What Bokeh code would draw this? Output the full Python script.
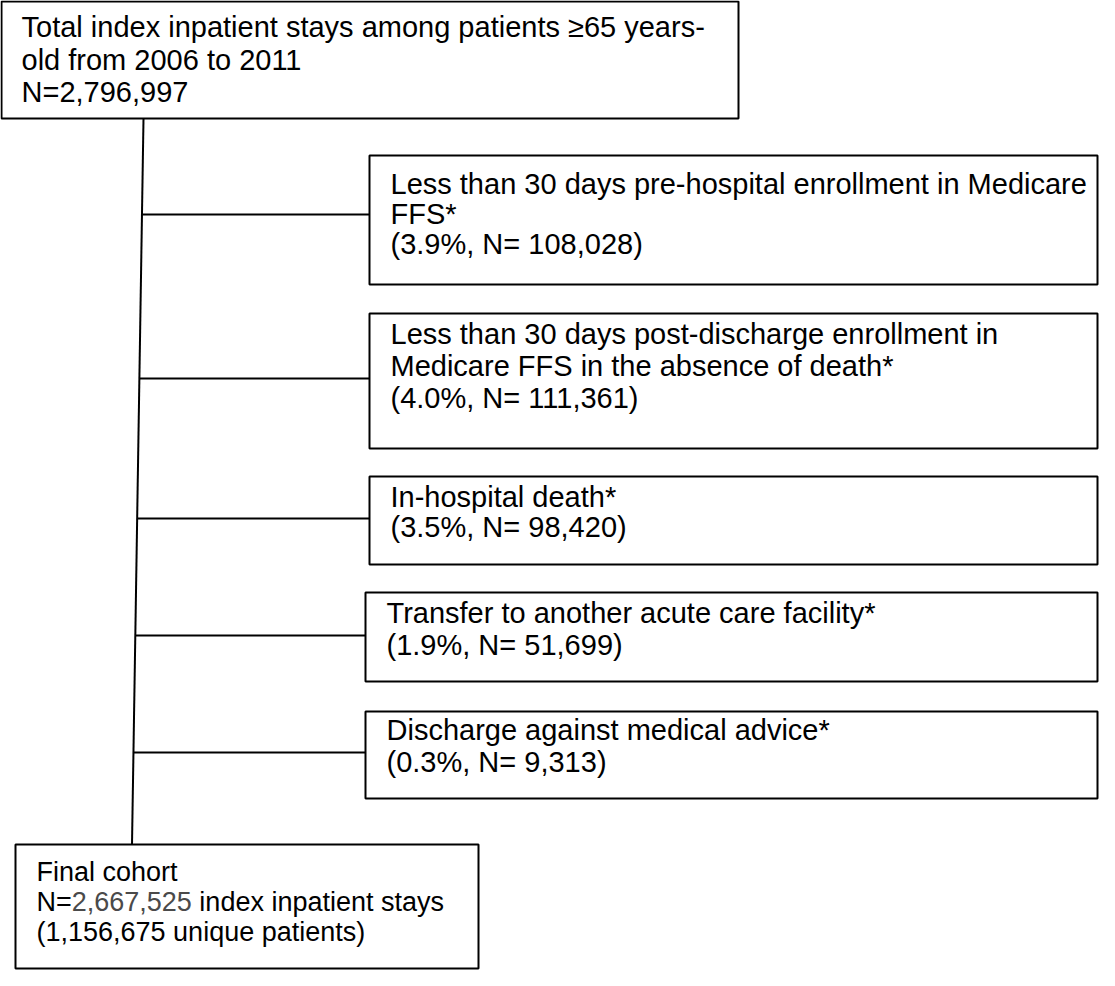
from bokeh.plotting import figure
from bokeh.models import Range1d
from bokeh.core.properties import value
from bokeh.embed import file_html
from bokeh.resources import INLINE

# ---------------- data ----------------
start_lines = ["Total index inpatient stays among patients \u226565 years-",
               "old from 2006 to 2011"]
total_n = 2796997

criteria_lines = [
    ["Less than 30 days pre-hospital enrollment in Medicare", "FFS*"],
    ["Less than 30 days post-discharge enrollment in", "Medicare FFS in the absence of death*"],
    ["In-hospital death*"],
    ["Transfer to another acute care facility*"],
    ["Discharge against medical advice*"],
]
excluded_pct = [3.9, 4.0, 3.5, 1.9, 0.3]
excluded_n = [108028, 111361, 98420, 51699, 9313]

final_title = "Final cohort"
final_n = 2667525
final_suffix = "index inpatient stays"
unique_patients = 1156675

# ---------------- layout (pixel space) ----------------
PW, PH = 1099, 970
XMAX, YMAX = PW - 2, PH - 2

FONT = value("Liberation Sans")
FS_MAIN = "29px"
FS_FINAL_NUM = 27
FS_FINAL = f"{FS_FINAL_NUM}px"

p = figure(width=PW, height=PH, output_backend="svg", toolbar_location=None,
           x_range=Range1d(0, PW), y_range=Range1d(PH, 0))
p.axis.visible = False
p.xgrid.visible = False
p.ygrid.visible = False
p.outline_line_color = None
p.min_border = 0
p.background_fill_color = "white"
p.border_fill_color = "white"

# boxes (left, right, top, bottom)
start_box = (1, 738, 1, 118)
crit_boxes = [(369, XMAX, 155, 284), (369, XMAX, 313, 448), (369, XMAX, 476, 564),
              (365, XMAX, 592, 681), (365, XMAX, 711, 798)]
final_box = (15, 478, 844, YMAX)
all_boxes = [start_box] + crit_boxes + [final_box]
p.quad(left=[b[0] for b in all_boxes], right=[b[1] for b in all_boxes],
       top=[b[2] for b in all_boxes], bottom=[b[3] for b in all_boxes],
       fill_color="white", line_color="black", line_width=2)

# trunk and connectors
tx0, ty0, tx1, ty1 = 143, 118, 131.5, 844
p.segment(x0=[tx0], y0=[ty0], x1=[tx1], y1=[ty1], line_color="black", line_width=2)
conn_y = [214, 378, 518, 635, 752]
cx0 = [tx0 + (tx1 - tx0) * (y - ty0) / (ty1 - ty0) for y in conn_y]
cx1 = [b[0] for b in crit_boxes]
p.segment(x0=cx0, y0=conn_y, x1=cx1, y1=conn_y, line_color="black", line_width=2)

# texts
tx, ty, tt = [], [], []
start_text = start_lines + [f"N={total_n:,}"]
for t, y in zip(start_text, [26.5, 59.5, 91.5]):
    tx.append(21); ty.append(y); tt.append(t)

crit_x = [390, 390, 390, 386, 386]
crit_base = [[183.5, 213, 243], [333, 365, 397], [496, 526], [612, 644], [729, 761]]
for lines, pct, n, x, ys in zip(criteria_lines, excluded_pct, excluded_n, crit_x, crit_base):
    full = lines + [f"({pct:.1f}%, N= {n:,})"]
    for t, y in zip(full, ys):
        tx.append(x); ty.append(y); tt.append(t)

p.text(x=tx, y=ty, text=tt, text_font=FONT, text_font_size=FS_MAIN,
       text_color="black", text_align="left", text_baseline="alphabetic")

# final box text (number shown in grey)
AW = {"N": 722, "=": 584, ",": 278, " ": 278}
for d in "0123456789":
    AW[d] = 556
def width(s, fs):
    return sum(AW.get(c, 556) for c in s) / 1000 * fs

fx = 36
fy = [871, 901, 931]
num_str = f"{final_n:,}"
w_pref = width("N=", FS_FINAL_NUM)
w_num = width(num_str, FS_FINAL_NUM)
w_sp = width(" ", FS_FINAL_NUM)
p.text(x=[fx, fx, fx], y=fy,
       text=[final_title, "N=", f"({unique_patients:,} unique patients)"],
       text_font=FONT, text_font_size=FS_FINAL, text_color="black",
       text_align="left", text_baseline="alphabetic")
p.text(x=[fx], y=[fy[1]], text=[num_str], x_offset=w_pref,
       text_font=FONT, text_font_size=FS_FINAL, text_color="#4a4a4a",
       text_align="left", text_baseline="alphabetic")
p.text(x=[fx], y=[fy[1]], text=[final_suffix], x_offset=w_pref + w_num + w_sp,
       text_font=FONT, text_font_size=FS_FINAL, text_color="black",
       text_align="left", text_baseline="alphabetic")

open("out.html", "w").write(file_html(p, INLINE))
